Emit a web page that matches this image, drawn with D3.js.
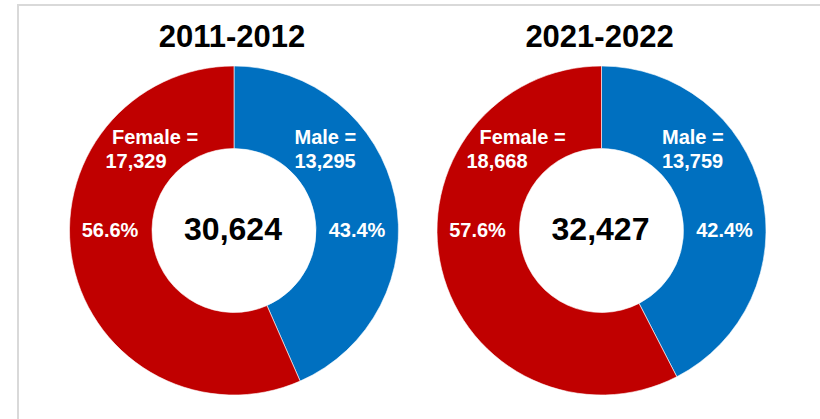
<!DOCTYPE html>
<html><head><meta charset="utf-8">
<script src="https://cdn.jsdelivr.net/npm/d3@7"></script>
<style>html,body{margin:0;padding:0;background:#fff}svg{display:block}</style>
</head><body>
<svg id="chart" width="820" height="419"></svg>
<script>
const periods = ["2011-2012", "2021-2022"];
const genders = ["Male", "Female"];
const maleValues = [13295, 13759];
const femaleValues = [17329, 18668];
const colors = ["#0070C0", "#C00000"];

const svg = d3.select("#chart");
const W = 820, H = 419;
svg.append("rect").attr("x", 18).attr("y", 5).attr("width", W).attr("height", H)
  .attr("fill", "#fff").attr("stroke", "#d9d9d9").attr("stroke-width", 2);

const font = "'Liberation Sans', Arial, sans-serif";
const x = d3.scalePoint().domain(periods).range([234, 601.5]);
const cy = 230.5, rOuter = 164.5, rInner = 82;
const pie = d3.pie().sort(null).value(d => d.value);
const arc = d3.arc().innerRadius(rInner).outerRadius(rOuter);
const color = d3.scaleOrdinal().domain(genders).range(colors);
const fmt = d3.format(",");
const pct = d3.format(".1%");
// per-chart offset of the second line of the Female label
const femaleNumDx = [-98, -104.5];

periods.forEach((p, i) => {
  const cx = x(p);
  const data = [
    {gender: "Male", value: maleValues[i]},
    {gender: "Female", value: femaleValues[i]}
  ];
  const total = d3.sum(data, d => d.value);
  const g = svg.append("g").attr("transform", `translate(${cx},${cy})`);
  g.selectAll("path").data(pie(data)).join("path")
    .attr("d", arc).attr("fill", d => color(d.data.gender))
    .attr("stroke", "#fff").attr("stroke-width", 0.6);

  svg.append("text").attr("x", cx - 2).attr("y", 46.5)
    .attr("text-anchor", "middle").attr("font-family", font)
    .attr("font-weight", "bold").attr("font-size", 31).attr("fill", "#000").text(p);

  g.append("text").attr("x", -1).attr("y", 9).attr("text-anchor", "middle")
    .attr("font-family", font).attr("font-weight", "bold").attr("font-size", 32)
    .attr("fill", "#000").text(fmt(total));

  const lab = (t, xx, yy, anchor) => g.append("text").attr("x", xx).attr("y", yy)
    .attr("text-anchor", anchor).attr("font-family", font).attr("font-weight", "bold")
    .attr("font-size", 20).attr("fill", "#fff").text(t);

  const male = data[0], female = data[1];
  lab("Male =", 60.5, -86.3, "start");
  lab(fmt(male.value), 60.5, -62.3, "start");
  lab(pct(male.value / total), 123, 6.5, "middle");
  lab("Female =", -79, -86.3, "middle");
  lab(fmt(female.value), femaleNumDx[i], -62.3, "middle");
  lab(pct(female.value / total), -124, 6.5, "middle");
});
</script>
</body></html>
